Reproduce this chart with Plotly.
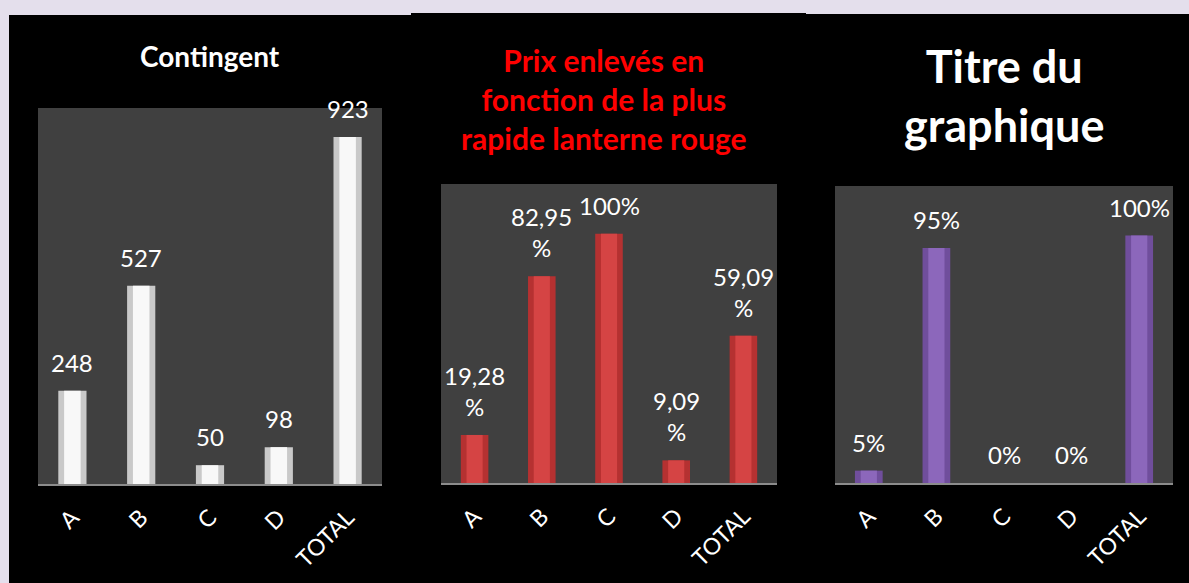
import plotly.graph_objects as go

categories = ["A", "B", "C", "D", "TOTAL"]
contingent = [248, 527, 50, 98, 923]
contingent_labels = ["248", "527", "50", "98", "923"]
prix = [0.1928, 0.8295, 1.0, 0.0909, 0.5909]
prix_labels = ["19,28<br>%", "82,95<br>%", "100%", "9,09<br>%", "59,09<br>%"]
titre = [0.05, 0.95, 0.0, 0.0, 1.0]
titre_labels = ["5%", "95%", "0%", "0%", "100%"]

W, H = 1189, 583
FONT = "Lato"

def px(x):
    return x / W

def py(y):
    return 1 - y / H

fig = go.Figure()

panels = [
    dict(vals=contingent, labels=contingent_labels, edge="#c9c9c9", core="#f8f8f8",
         xd=[px(38), px(382)], yd=[py(484), py(108)], rng=[0, 1000]),
    dict(vals=prix, labels=prix_labels, edge="#b53131", core="#d54444",
         xd=[px(441), px(777)], yd=[py(483), py(184)], rng=[0, 1.2]),
    dict(vals=titre, labels=titre_labels, edge="#704e9c", core="#8c67bb",
         xd=[px(835), px(1173)], yd=[py(483), py(186)], rng=[0, 1.2]),
]

shapes = [
    dict(type="rect", xref="paper", yref="paper", x0=px(9), x1=px(411), y0=0, y1=py(15), fillcolor="black"),
    dict(type="rect", xref="paper", yref="paper", x0=px(411), x1=px(806), y0=0, y1=py(13), fillcolor="black"),
    dict(type="rect", xref="paper", yref="paper", x0=px(806), x1=1, y0=0, y1=py(14), fillcolor="black"),
]
annotations = []

for i, p in enumerate(panels):
    n = "" if i == 0 else str(i + 1)
    fig.add_trace(go.Bar(x=categories, y=p["vals"], width=0.41,
                         marker=dict(color=p["edge"], line=dict(width=0)),
                         xaxis="x" + n, yaxis="y" + n, showlegend=False, hoverinfo="skip"))
    fig.add_trace(go.Bar(x=categories, y=p["vals"], width=0.24,
                         marker=dict(color=p["core"], line=dict(width=0)),
                         xaxis="x" + n, yaxis="y" + n, showlegend=False))
    fig.layout["xaxis" + n] = dict(domain=p["xd"], anchor="y" + n, showline=True,
                                   linecolor="#8c8c8c", linewidth=2, tickangle=-45,
                                   ticklabelstandoff=9, showgrid=False,
                                   tickfont=dict(color="white", size=23, family=FONT))
    fig.layout["yaxis" + n] = dict(domain=p["yd"], anchor="x" + n, range=p["rng"],
                                   showgrid=False, showticklabels=False, zeroline=False)
    shapes.append(dict(type="rect", xref="paper", yref="paper", x0=p["xd"][0], x1=p["xd"][1],
                       y0=p["yd"][0], y1=p["yd"][1], fillcolor="#404040"))
    for c, v, t in zip(categories, p["vals"], p["labels"]):
        annotations.append(dict(text=t, x=c, y=v, xref="x" + n, yref="y" + n,
                                xanchor="center", yanchor="bottom", yshift=12, showarrow=False,
                                font=dict(color="white", size=24, family=FONT)))

for s in shapes:
    s.update(line=dict(width=0), layer="below")

titles = [
    dict(text="<b>Contingent</b>", x=px(210), y=py(56), font=dict(color="white", size=28, family=FONT)),
    dict(text="<b>Prix enlevés en<br>fonction de la plus<br>rapide lanterne rouge</b>", x=px(604), y=py(99),
         font=dict(color="#ff0000", size=30, family=FONT)),
    dict(text="<b>Titre du<br>graphique</b>", x=px(1004), y=py(96), font=dict(color="white", size=45, family=FONT)),
]
for a in titles:
    a.update(xref="paper", yref="paper", showarrow=False, xanchor="center", yanchor="middle")
annotations.extend(titles)

fig.update_layout(width=W, height=H, margin=dict(l=0, r=0, t=0, b=0),
                  paper_bgcolor="#e4dfec", plot_bgcolor="#404040", barmode="overlay",
                  shapes=shapes, annotations=annotations)

fig.write_html("out.html", config={"displayModeBar": False},
               post_script="document.body.style.margin='0';")
